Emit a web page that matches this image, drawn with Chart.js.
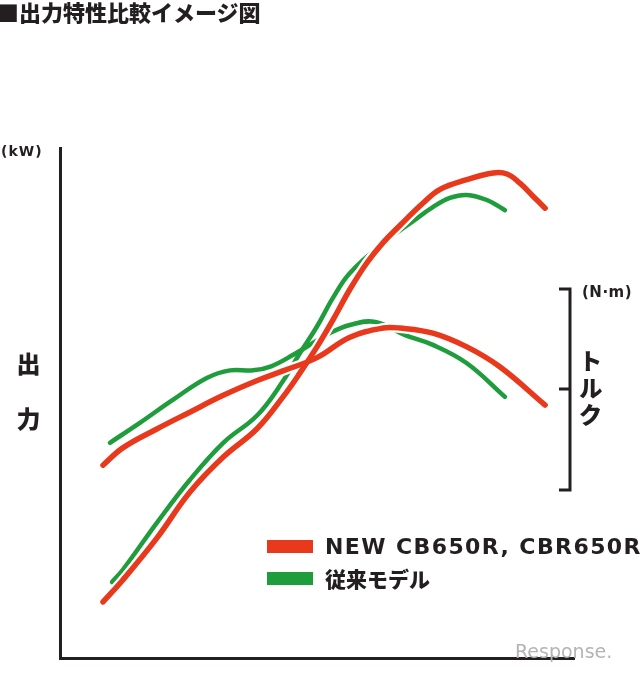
<!DOCTYPE html>
<html lang="ja">
<head>
<meta charset="utf-8">
<script src="https://cdn.jsdelivr.net/npm/chart.js@4.4.1/dist/chart.umd.min.js"></script>
<style>
  html, body { margin: 0; padding: 0; background: #fff; }
  #wrap { position: relative; width: 640px; height: 673px; overflow: hidden; background: #fff; }
  #c { position: absolute; left: 0; top: 0; }
  .t { position: absolute; color: #231f20; white-space: nowrap; line-height: 1; }
  .jp { font-family: "Noto Sans CJK JP", "Noto Sans", sans-serif; font-weight: 900; }
  .lat { font-family: "DejaVu Sans", sans-serif; font-weight: bold; }
  .sw { position: absolute; width: 46px; height: 13px; }
</style>
</head>
<body>
<div id="wrap">
  <canvas id="c" width="640" height="673"></canvas>
  <div class="t jp" style="left:-3px; top:0px; font-size:22px;">■出力特性比較イメージ図</div>
  <div class="t lat" style="left:1px; top:144px; font-size:14px; letter-spacing:1px;">(kW)</div>
  <div class="t jp" style="left:16px; top:352px; font-size:24px; writing-mode:vertical-rl; letter-spacing:31px;">出力</div>
  <div class="t lat" style="left:582px; top:285px; font-size:15px; letter-spacing:0.5px;">(N·m)</div>
  <div class="t jp" style="left:578px; top:349px; font-size:24px; writing-mode:vertical-rl; letter-spacing:3px;">トルク</div>
  <div id="legend"></div>
  <div class="t" style="left:515px; top:642px; font-size:19px; color:#b4b4b4; font-family:'DejaVu Sans', sans-serif;">Response.</div>
</div>
<script>
// ---- data (abstract engine-speed units 0-100, output/torque units 0-100) ----
const seriesNames = ["NEW CB650R, CBR650R", "従来モデル"];

const newPowerX = [8.35, 12.2, 18.8, 25.2, 31.7, 38.3, 43.3, 46.6, 49.9, 53.0, 56.3, 59.6, 62.7, 66.0, 70.5, 73.8, 79.0, 84.1, 86.8, 89.3, 91.8, 94.2];
const newPowerY = [11.0, 15.3, 23.5, 32.5, 39.4, 45.0, 51.2, 55.9, 61.0, 66.3, 72.3, 77.5, 81.4, 84.8, 89.2, 91.9, 93.8, 95.1, 94.9, 93.1, 90.6, 88.2];

const newTorqueX = [8.35, 12.2, 18.8, 25.2, 31.7, 38.3, 43.3, 49.9, 56.3, 62.7, 66.0, 72.4, 79.0, 85.4, 94.2];
const newTorqueY = [37.8, 41.2, 44.9, 48.2, 51.5, 54.4, 56.3, 58.9, 62.9, 64.7, 64.7, 63.7, 61.0, 57.1, 49.6];

const oldPowerX = [10.1, 12.2, 18.8, 25.2, 31.7, 38.3, 43.3, 46.6, 49.9, 53.0, 56.3, 63.1, 68.9, 72.4, 75.7, 79.0, 82.9, 86.4];
const oldPowerY = [14.9, 17.3, 26.5, 34.9, 42.2, 47.6, 54.3, 59.8, 65.0, 70.6, 75.5, 81.6, 85.9, 88.4, 90.2, 90.8, 89.8, 87.8];

const oldTorqueX = [9.7, 15.5, 21.9, 28.5, 33.0, 37.5, 41.0, 45.2, 52.4, 56.3, 61.2, 67.0, 72.4, 79.0, 86.4];
const oldTorqueY = [42.2, 46.1, 50.6, 54.9, 56.4, 56.4, 57.2, 59.4, 63.7, 65.3, 65.9, 63.3, 61.4, 57.8, 51.2];

const xRange = [0, 100];
const yRange = [0, 100];

const RED = "#e8391c";
const GREEN = "#1f9c3c";
const INK = "#231f20";

function pts(xs, ys) { return xs.map((x, i) => ({ x: x, y: ys[i] })); }

function line(label, xs, ys, color, width, order) {
  return {
    label: label,
    data: pts(xs, ys),
    borderColor: color,
    backgroundColor: color,
    borderWidth: width,
    pointRadius: 0,
    pointHoverRadius: 0,
    tension: 0.4,
    borderCapStyle: "round",
    borderJoinStyle: "round",
    fill: false,
    order: order
  };
}

const datasets = [
  line(seriesNames[0] + " 出力", newPowerX, newPowerY, RED, 5.5, 0),
  line(seriesNames[0] + " トルク", newTorqueX, newTorqueY, RED, 5.5, 0),
  line("halo1", newPowerX, newPowerY, "#ffffff", 10, 1),
  line("halo2", newTorqueX, newTorqueY, "#ffffff", 10, 1),
  line(seriesNames[1] + " 出力", oldPowerX, oldPowerY, GREEN, 4.5, 2),
  line(seriesNames[1] + " トルク", oldTorqueX, oldTorqueY, GREEN, 4.5, 2)
];

// legend (HTML)
const legendColors = [RED, GREEN];
const legendTops = [540, 572];
const lg = document.getElementById("legend");
seriesNames.forEach((name, i) => {
  const sw = document.createElement("div");
  sw.className = "sw";
  sw.style.left = "267px";
  sw.style.top = legendTops[i] + "px";
  sw.style.background = legendColors[i];
  lg.appendChild(sw);
  const tx = document.createElement("div");
  tx.className = "t " + (i === 0 ? "lat" : "jp");
  tx.textContent = name;
  tx.style.left = "325px";
  if (i === 0) {
    tx.style.top = (legendTops[i] - 4) + "px";
    tx.style.fontSize = "22px";
    tx.style.letterSpacing = "1.4px";
  } else {
    tx.style.top = (legendTops[i] - 4) + "px";
    tx.style.fontSize = "21px";
  }
  lg.appendChild(tx);
});

const bracketPlugin = {
  id: "bracket",
  afterDraw(chart) {
    const ctx = chart.ctx;
    ctx.save();
    ctx.strokeStyle = INK;
    ctx.lineWidth = 3;
    ctx.beginPath();
    ctx.moveTo(559, 289); ctx.lineTo(570, 289); ctx.lineTo(570, 490); ctx.lineTo(559, 490);
    ctx.moveTo(559, 389); ctx.lineTo(570, 389);
    ctx.stroke();
    ctx.restore();
  }
};

new Chart(document.getElementById("c"), {
  type: "line",
  data: { datasets: datasets },
  options: {
    responsive: false,
    animation: false,
    events: [],
    layout: { padding: { left: 60, top: 148, right: 65, bottom: 15 } },
    plugins: { legend: { display: false }, tooltip: { enabled: false }, title: { display: false } },
    scales: {
      x: {
        type: "linear", min: xRange[0], max: xRange[1],
        grid: { display: true, color: "rgba(0,0,0,0)", drawTicks: false, lineWidth: 0 },
        border: { display: true, color: INK, width: 3 },
        ticks: { display: false },
        afterFit(s) { s.height = 0; }
      },
      y: {
        type: "linear", min: yRange[0], max: yRange[1],
        grid: { display: true, color: "rgba(0,0,0,0)", drawTicks: false, lineWidth: 0 },
        border: { display: true, color: INK, width: 3 },
        ticks: { display: false },
        afterFit(s) { s.width = 0; }
      }
    }
  },
  plugins: [bracketPlugin]
});
</script>
</body>
</html>
